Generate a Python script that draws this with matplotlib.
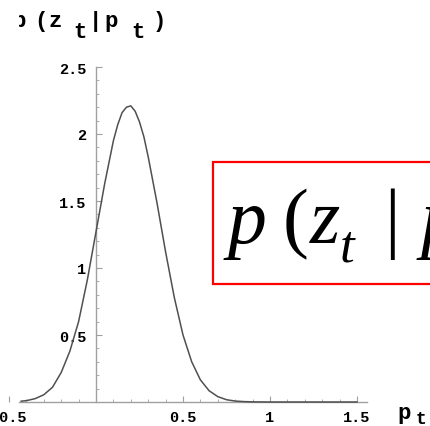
import matplotlib
matplotlib.use('Agg')
import matplotlib.pyplot as plt
from matplotlib.patches import Rectangle
from matplotlib.transforms import Bbox

p_t = [-0.43, -0.40, -0.35, -0.30, -0.25, -0.20, -0.15, -0.10, -0.05,
       0.00, 0.05, 0.10, 0.125, 0.15, 0.175, 0.20, 0.225, 0.25, 0.275,
       0.30, 0.35, 0.40, 0.45, 0.50, 0.55, 0.60, 0.65, 0.70, 0.75,
       0.80, 0.85, 0.90, 1.00, 1.25, 1.50]
density = [0.006, 0.010, 0.025, 0.054, 0.11, 0.22, 0.38, 0.60, 0.91,
           1.27, 1.63, 1.95, 2.07, 2.16, 2.20, 2.21, 2.17, 2.09, 1.98,
           1.83, 1.49, 1.12, 0.78, 0.50, 0.30, 0.165, 0.084, 0.040, 0.017,
           0.007, 0.003, 0.001, 0.0, 0.0, 0.0]

x_ticks = [-0.5, 0.5, 1, 1.5]
x_ticklabels = ['-0.5', '0.5', '1', '1.5']
y_ticks = [0.5, 1, 1.5, 2, 2.5]
y_ticklabels = ['0.5', '1', '1.5', '2', '2.5']

W, H = 430, 427
fig = plt.figure(figsize=(W / 100, H / 100), dpi=100)
ax = fig.add_axes([0, 0, 1, 1])

# origin sits at pixel (96, 403); 174 px per unit in x, 134 px per unit in y
ax.set_xlim(-96 / 174, (W - 96) / 174)
ax.set_ylim((403 - H) / 134, 403 / 134)

ax.plot(p_t, density, color='#505050', lw=1.1, zorder=3)

axis_col = '#a0a0a0'
for s in ['top', 'right']:
    ax.spines[s].set_visible(False)
ax.spines['left'].set_position(('data', 0))
ax.spines['bottom'].set_position(('data', 0))
ax.spines['left'].set_bounds(0, 2.5)
ax.spines['bottom'].set_bounds(-0.44, 1.56)
for s in ['left', 'bottom']:
    ax.spines[s].set_color(axis_col)
    ax.spines[s].set_linewidth(1.0)

ax.set_xticks(x_ticks)
ax.set_xticklabels(x_ticklabels)
ax.set_yticks(y_ticks)
ax.set_yticklabels(y_ticklabels)
ax.set_xticks([v / 10 for v in range(-4, 16) if v % 5 != 0], minor=True)
ax.set_yticks([v / 10 for v in range(1, 25) if v % 5 != 0], minor=True)
ax.tick_params(which='major', direction='in', length=4, width=0.8,
               color=axis_col, labelsize=11)
ax.tick_params(axis='x', which='major', pad=6)
ax.tick_params(axis='y', which='major', pad=7)
ax.tick_params(which='minor', direction='in', length=2, width=0.6,
               color=axis_col)
for lab in ax.get_xticklabels() + ax.get_yticklabels():
    lab.set_family('Liberation Mono')
    lab.set_weight('bold')


def put(s, x, y, size, **kw):
    # place a piece of text by its left edge and baseline, in pixels from top-left
    return fig.text(x / W, 1 - y / H, s, fontsize=size, ha='left',
                    va='baseline', **kw)


# axis labels in typewriter style, subscripts dropped below the line
mono = dict(family='Liberation Mono', weight='bold')
clip = Bbox.from_extents(19, 0, W, H)
for s, x, y in [('p', 12, 27), ('(', 34, 27), ('z', 48, 27), ('t', 73, 38),
                ('|', 89, 27), ('p', 104, 27), ('t', 131, 38), (')', 153, 27)]:
    t = put(s, x, y, 16, **mono)
    t.set_clip_box(clip)
    t.set_clip_on(True)
put('p', 397, 419, 16, **mono)
put('t', 416, 424, 13, **mono)

# boxed formula
fig.patches.append(Rectangle((213 / W, 1 - 285 / H), 260 / W, 122 / H,
                             transform=fig.transFigure, fill=True,
                             facecolor='white', edgecolor='red', lw=1.6,
                             zorder=4))
serif_it = dict(family='Liberation Serif', style='italic', zorder=5)
serif = dict(family='Liberation Serif', zorder=5)
put('p', 228, 243, 56, **serif_it)
put('(', 283, 243, 56, **serif)
put('z', 310, 243, 56, **serif_it)
put('t', 340, 262, 38, **serif_it)
put('|', 384, 243, 56, **serif)
put('p', 421, 243, 56, **serif_it)

fig.savefig('out.png', dpi=100)
